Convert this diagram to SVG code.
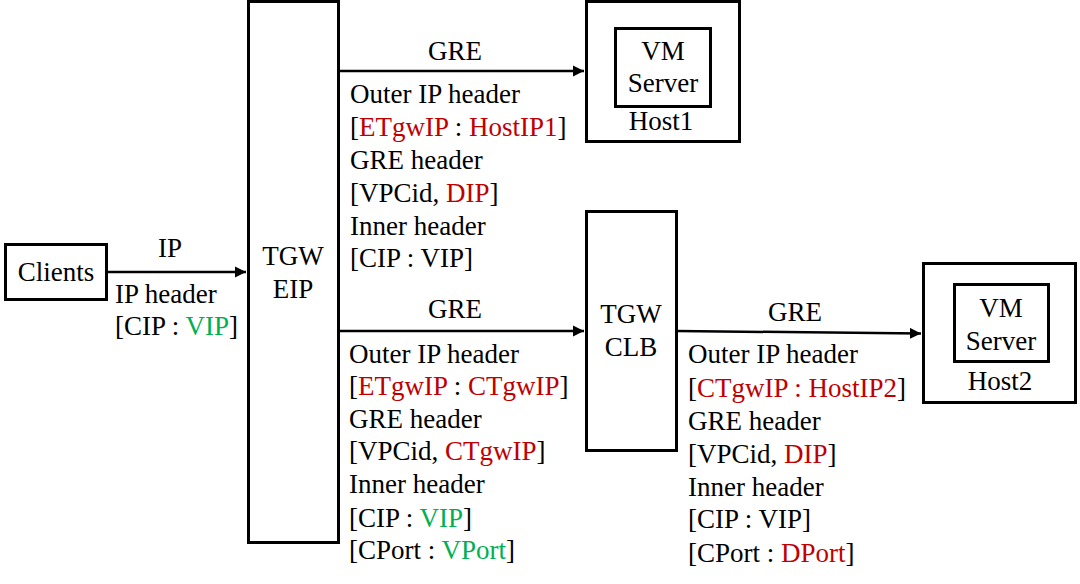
<svg xmlns="http://www.w3.org/2000/svg" width="1080" height="584" viewBox="0 0 1080 584">
<style>
.box{fill:#fff;stroke:#000;stroke-width:3}
.ln{stroke:#000;stroke-width:2.5;fill:none}
text{font-family:"Liberation Serif","Times New Roman",serif;font-size:27px;fill:#000}
.c{text-anchor:middle}
.r{fill:#C00000}
.g{fill:#00B050}
</style>
<defs>
<marker id="ah" viewBox="0 0 10 10" refX="10" refY="5" markerWidth="4.5" markerHeight="4.5" orient="auto" markerUnits="strokeWidth">
<path d="M0,0 L10,5 L0,10 z" fill="#000"/>
</marker>
</defs>
<rect width="1080" height="584" fill="#fff"/>
<g id="connectors">
<line class="ln" x1="107" y1="272" x2="246" y2="272" marker-end="url(#ah)"/>
<line class="ln" x1="339" y1="71" x2="584" y2="71" marker-end="url(#ah)"/>
<line class="ln" x1="339" y1="331" x2="584" y2="331" marker-end="url(#ah)"/>
<line class="ln" x1="677" y1="331" x2="921" y2="333.5" marker-end="url(#ah)"/>
</g>
<g id="clients">
<rect class="box" x="5.5" y="244.5" width="101" height="55"/>
<text class="c" x="56" y="281">Clients</text>
</g>
<g id="tgw-eip">
<rect class="box" x="248.5" y="1.5" width="90" height="541"/>
<text class="c" x="293" y="265">TGW</text>
<text class="c" x="293" y="298">EIP</text>
</g>
<g id="host1">
<rect class="box" x="586.5" y="1.5" width="153" height="140"/>
<rect class="box" x="615.5" y="28.5" width="95" height="78"/>
<text class="c" x="663" y="60">VM</text>
<text class="c" x="663" y="92">Server</text>
<text class="c" x="661" y="130">Host1</text>
</g>
<g id="tgw-clb">
<rect class="box" x="586.5" y="211.5" width="90" height="239"/>
<text class="c" x="631" y="323">TGW</text>
<text class="c" x="631" y="356">CLB</text>
</g>
<g id="host2">
<rect class="box" x="923.5" y="263.5" width="152" height="139"/>
<rect class="box" x="954.5" y="284.5" width="94" height="77"/>
<text class="c" x="1001" y="317">VM</text>
<text class="c" x="1001" y="350">Server</text>
<text class="c" x="1000" y="390">Host2</text>
</g>
<g id="label-ip">
<text class="c" x="170" y="257">IP</text>
<text x="115" y="303">IP header</text>
<text x="115" y="335">[CIP : <tspan class="g">VIP</tspan>]</text>
</g>
<g id="label-gre1">
<text class="c" x="455" y="60">GRE</text>
<text x="350" y="103">Outer IP header</text>
<text x="350" y="136">[<tspan class="r">ETgwIP</tspan> : <tspan class="r">HostIP1</tspan>]</text>
<text x="350" y="169">GRE header</text>
<text x="350" y="202">[VPCid, <tspan class="r">DIP</tspan>]</text>
<text x="350" y="235">Inner header</text>
<text x="350" y="267">[CIP : VIP]</text>
</g>
<g id="label-gre2">
<text class="c" x="455" y="318">GRE</text>
<text x="349" y="363">Outer IP header</text>
<text x="349" y="395">[<tspan class="r">ETgwIP</tspan> : <tspan class="r">CTgwIP</tspan>]</text>
<text x="349" y="428">GRE header</text>
<text x="349" y="460">[VPCid, <tspan class="r">CTgwIP</tspan>]</text>
<text x="349" y="493">Inner header</text>
<text x="349" y="527">[CIP : <tspan class="g">VIP</tspan>]</text>
<text x="349" y="559">[CPort : <tspan class="g">VPort</tspan>]</text>
</g>
<g id="label-gre3">
<text class="c" x="795" y="321">GRE</text>
<text x="688" y="363">Outer IP header</text>
<text x="688" y="397">[<tspan class="r">CTgwIP : HostIP2</tspan>]</text>
<text x="688" y="430">GRE header</text>
<text x="688" y="463">[VPCid, <tspan class="r">DIP</tspan>]</text>
<text x="688" y="496">Inner header</text>
<text x="688" y="528">[CIP : VIP]</text>
<text x="688" y="562">[CPort : <tspan class="r">DPort</tspan>]</text>
</g>
</svg>
